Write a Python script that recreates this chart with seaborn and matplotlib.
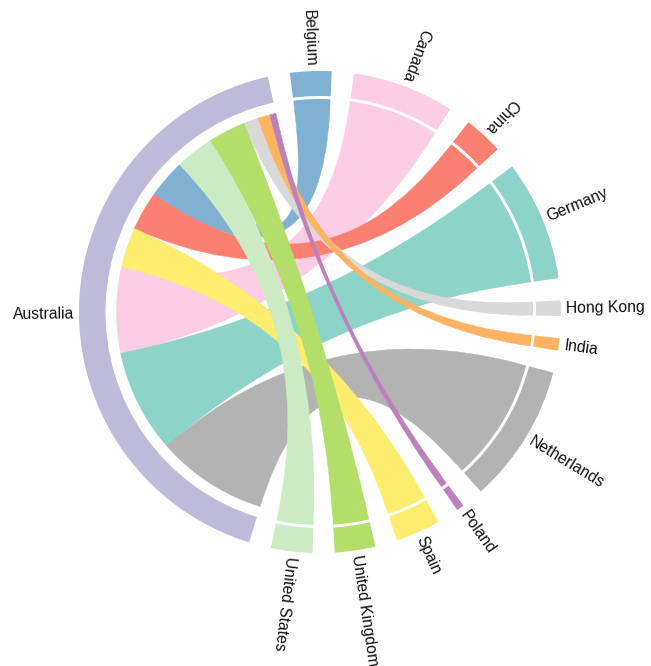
import numpy as np
import matplotlib.pyplot as plt
from matplotlib.path import Path
from matplotlib.patches import PathPatch, Wedge
import seaborn as sns

# Australia and its partners; chord width differs at each end
source = "Australia"
countries = ["Belgium", "Canada", "China", "Germany", "Hong Kong", "India",
             "Netherlands", "Poland", "Spain", "United Kingdom", "United States"]
# Australia -> partner (width on the Australia arc)
outflow = [11.0, 24.5, 11.2, 29.4, 4.2, 3.4, 31.8, 1.8, 11.4, 10.8, 10.9]
# partner -> Australia (width on the partner arc)
inflow = [10.0, 24.6, 9.5, 29.1, 3.7, 3.0, 33.6, 1.8, 10.8, 9.8, 10.0]
colors = ["#80b1d3", "#fccde5", "#fb8072", "#8dd3c7", "#d9d9d9", "#fdb462",
          "#b3b3b3", "#bc80bd", "#ffed6f", "#b3de69", "#ccebc5"]
source_color = "#bebada"

sns.set_theme(style="white")

start = -107.1       # math angle where Australia begins (going clockwise)
r_chord, r_stub = 203.5, 213.0
r_in, r_out = 214.5, 241.0
r_label = 246.0

total = sum(outflow) + sum(inflow)
pad = (360 - total) / (len(countries) + 1)

# group layout, clockwise (decreasing math angle)
src_a0 = start
src_a1 = start - sum(outflow)
groups = []
theta = src_a1 - pad
for v in inflow:
    groups.append((theta, theta - v))
    theta = theta - v - pad

# sub-groups on the Australia arc, largest first
order = np.argsort(outflow)[::-1]
sub = {}
theta = src_a0
for i in order:
    sub[i] = (theta, theta - outflow[i])
    theta -= outflow[i]


def arc(a0, a1, r, n=80):
    t = np.radians(np.linspace(a0, a1, n))
    return np.c_[r * np.cos(t), r * np.sin(t)]


def ribbon(s0, s1, t0, t1, r):
    sa = arc(s0, s1, r)
    ta = arc(t0, t1, r)
    verts = list(sa) + [(0, 0), ta[0]] + list(ta[1:]) + [(0, 0), sa[0], sa[0]]
    codes = ([Path.MOVETO] + [Path.LINETO] * (len(sa) - 1)
             + [Path.CURVE3, Path.CURVE3] + [Path.LINETO] * (len(ta) - 1)
             + [Path.CURVE3, Path.CURVE3, Path.CLOSEPOLY])
    return Path(verts, codes)


fig = plt.figure(figsize=(6.51, 6.66), dpi=100)
ax = fig.add_axes([0, 0, 1, 1])
ax.set_xlim(-320, 331)
ax.set_ylim(-354, 312)
ax.axis("off")

# chords, later countries drawn on top
for i, c in enumerate(countries):
    s0, s1 = sub[i]
    t0, t1 = groups[i]
    ax.add_patch(PathPatch(ribbon(s0, s1, t0, t1, r_chord), facecolor=colors[i],
                           edgecolor=colors[i], lw=0.3))

# outer arcs
ax.add_patch(Wedge((0, 0), r_out, src_a1, src_a0, width=r_out - r_in,
                   facecolor=source_color, lw=0))
for i, c in enumerate(countries):
    t0, t1 = groups[i]
    ax.add_patch(Wedge((0, 0), r_out, t1, t0, width=r_out - r_in - 1.5,
                       facecolor=colors[i], lw=0))
    ax.add_patch(Wedge((0, 0), r_stub, t1, t0, width=r_stub - r_chord + 0.5,
                       facecolor=colors[i], lw=0))


def label(name, a):
    b = (90 - a) % 360
    flip = (b - 55) % 360 > 180
    x, y = r_label * np.cos(np.radians(a)), r_label * np.sin(np.radians(a))
    rot = a - 180 if flip else a
    ax.text(x, y, name, rotation=rot, rotation_mode="anchor",
            ha="right" if flip else "left", va="center", fontsize=11.3,
            family=["Liberation Sans", "DejaVu Sans"], color="#111111")


label(source, 180.5)
for i, c in enumerate(countries):
    label(c, sum(groups[i]) / 2)

plt.savefig("out.png", dpi=100)
